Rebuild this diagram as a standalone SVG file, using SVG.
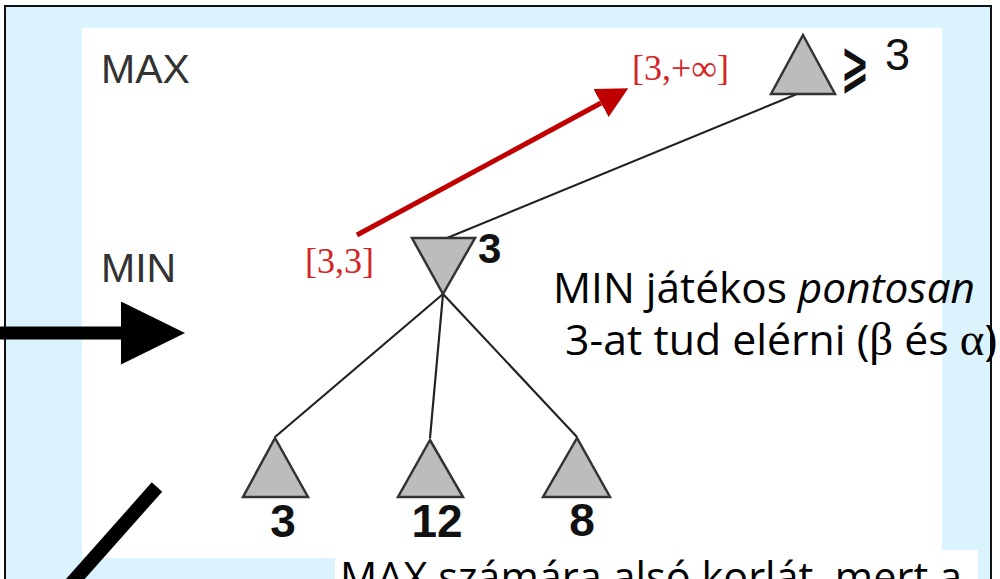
<svg xmlns="http://www.w3.org/2000/svg" width="1000" height="579" viewBox="0 0 1000 579">
  <defs>
    <marker id="redhead" markerUnits="userSpaceOnUse" markerWidth="32" markerHeight="32" refX="0" refY="16" orient="auto">
      <path d="M0,0 L31,16 L0,32 Z" fill="#c00000"/>
    </marker>
    <marker id="blackhead" markerUnits="userSpaceOnUse" markerWidth="64" markerHeight="64" refX="0" refY="31.5" orient="auto">
      <path d="M0,0 L64,31.5 L0,63 Z" fill="#000"/>
    </marker>
  </defs>
  <style>
    .tri { fill: #bcbcbc; stroke: #333; stroke-width: 2.5; stroke-linejoin: miter; }
    .edge { stroke: #222; stroke-width: 2.2; fill: none; }
    .lvl { font-family: "Liberation Sans", Arial, sans-serif; font-size: 41px; fill: #333; }
    .red { font-family: "Liberation Serif", "Times New Roman", serif; font-size: 36px; fill: #d42424; }
    .val { font-family: "Liberation Sans", Arial, sans-serif; font-size: 46px; font-weight: bold; fill: #111; text-anchor: middle; }
    .note { font-family: "Open Sans", "Noto Sans", sans-serif; font-size: 42px; fill: #000; }
    .greek { font-family: "Liberation Serif", "Times New Roman", serif; font-size: 46px; }
  </style>

  <!-- frame -->
  <rect x="5" y="6" width="986" height="600" fill="#dbf3fd" stroke="#111" stroke-width="2"/>
  <rect x="82" y="28" width="860" height="530" fill="#fff"/>
  <rect x="335" y="550" width="643" height="40" fill="#fff"/>

  <!-- level labels -->
  <text class="lvl" x="101" y="83">MAX</text>
  <text class="lvl" x="101" y="282">MIN</text>

  <!-- connectors -->
  <g id="connectors">
    <line class="edge" x1="447" y1="238" x2="797" y2="94"/>
    <line class="edge" x1="443" y1="294" x2="275" y2="437"/>
    <line class="edge" x1="443" y1="294" x2="430" y2="438"/>
    <line class="edge" x1="443" y1="294" x2="577" y2="437"/>
    <line x1="357" y1="235" x2="601" y2="103" stroke="#c00000" stroke-width="5" marker-end="url(#redhead)"/>
    <line x1="-5" y1="333" x2="121" y2="333" stroke="#000" stroke-width="13" marker-end="url(#blackhead)"/>
    <line x1="157" y1="487" x2="70" y2="585" stroke="#000" stroke-width="14"/>
  </g>

  <!-- MAX node -->
  <g id="node-max">
    <polygon class="tri" points="803,35 771,94 835,94"/>
    <text x="841" y="85" font-family="DejaVu Sans, sans-serif" font-size="58" font-weight="bold" fill="#111" textLength="28" lengthAdjust="spacingAndGlyphs">⩾</text>
    <text x="885" y="70" font-family="Liberation Sans, Arial, sans-serif" font-size="45" fill="#111">3</text>
    <text class="red" x="632" y="80">[3,+∞]</text>
  </g>

  <!-- MIN node -->
  <g id="node-min">
    <polygon class="tri" points="412,238 475,238 443,294"/>
    <text x="478" y="263" font-family="Liberation Sans, Arial, sans-serif" font-size="42" font-weight="bold" fill="#111">3</text>
    <text class="red" x="305" y="273">[3,3]</text>
  </g>

  <!-- leaves -->
  <g id="leaf-1">
    <polygon class="tri" points="275,438 243,497 308,497"/>
    <text class="val" x="283" y="537">3</text>
  </g>
  <g id="leaf-2">
    <polygon class="tri" points="430,440 398,497 463,497"/>
    <text class="val" x="437" y="537">12</text>
  </g>
  <g id="leaf-3">
    <polygon class="tri" points="577,438 543,497 610,497"/>
    <text class="val" x="582" y="536">8</text>
  </g>

  <!-- notes -->
  <text class="note" x="553" y="303" textLength="422" lengthAdjust="spacingAndGlyphs">MIN játékos <tspan font-style="italic">pontosan</tspan></text>
  <text class="note" x="565" y="355" textLength="432" lengthAdjust="spacingAndGlyphs">3-at tud elérni (<tspan class="greek">β</tspan> és <tspan class="greek">α</tspan>)</text>
  <text class="note" x="340" y="592" textLength="622" lengthAdjust="spacingAndGlyphs">MAX számára alsó korlát, mert a</text>
</svg>
